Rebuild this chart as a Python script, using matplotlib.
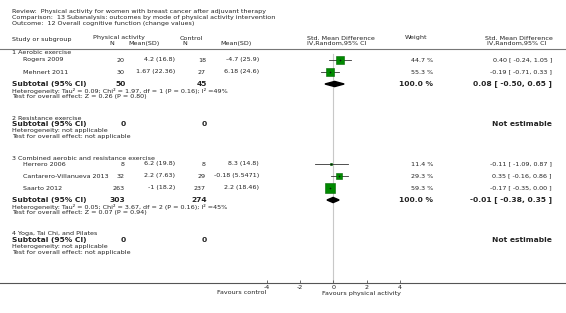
import matplotlib
matplotlib.use("Agg")
import matplotlib.pyplot as plt
from matplotlib.patches import Polygon

# ---------------------------------------------------------------------------
# Data
# ---------------------------------------------------------------------------

title_lines = [
    "Review:  Physical activity for women with breast cancer after adjuvant therapy",
    "Comparison:  13 Subanalysis: outcomes by mode of physical activity intervention",
    "Outcome:  12 Overall cognitive function (change values)",
]

groups = [
    "1 Aerobic exercise",
    "2 Resistance exercise",
    "3 Combined aerobic and resistance exercise",
    "4 Yoga, Tai Chi, and Pilates",
]

studies = ["Rogers 2009", "Mehnert 2011", "Herrero 2006",
           "Cantarero-Villanueva 2013", "Saarto 2012"]
pa_n = [20, 30, 8, 32, 263]
pa_mean = [4.2, 1.67, 6.2, 2.2, -1]
pa_sd = [16.8, 22.36, 19.8, 7.63, 18.2]
ctrl_n = [18, 27, 8, 29, 237]
ctrl_mean = [-4.7, 6.18, 8.3, -0.18, 2.2]
ctrl_sd = [25.9, 24.6, 14.8, 5.5471, 18.46]
smd = [0.40, -0.19, -0.11, 0.35, -0.17]
smd_lo = [-0.24, -0.71, -1.09, -0.16, -0.35]
smd_hi = [1.05, 0.33, 0.87, 0.86, 0.00]
weight = [44.7, 55.3, 11.4, 29.3, 59.3]

sub_pa_n = [50, 0, 303, 0]
sub_ctrl_n = [45, 0, 274, 0]
sub_smd = [0.08, None, -0.01, None]
sub_lo = [-0.50, None, -0.38, None]
sub_hi = [0.65, None, 0.35, None]
sub_het = [
    "Heterogeneity: Tau\u00b2 = 0.09; Chi\u00b2 = 1.97, df = 1 (P = 0.16); I\u00b2 =49%",
    "Heterogeneity: not applicable",
    "Heterogeneity: Tau\u00b2 = 0.05; Chi\u00b2 = 3.67, df = 2 (P = 0.16); I\u00b2 =45%",
    "Heterogeneity: not applicable",
]
sub_test = [
    "Test for overall effect: Z = 0.26 (P = 0.80)",
    "Test for overall effect: not applicable",
    "Test for overall effect: Z = 0.07 (P = 0.94)",
    "Test for overall effect: not applicable",
]

xticks = [-4, -2, 0, 2, 4]

# ---------------------------------------------------------------------------
# Layout (pixel rows / columns of a 566x313 canvas)
# ---------------------------------------------------------------------------

W, H = 566, 313
study_y = [60, 72, 164, 176, 188]
group_y = [53, 118, 158, 234]
sub_y = [84, 124, 200, 240]
het_y = [s + 6.8 for s in sub_y]
test_y = [s + 12.6 for s in sub_y]
axis_y = 282.7
zero_px, unit_px = 333.3, 16.67

FS = 4.55       # normal text
FS_SUB = 5.4    # bold subtotal text
FS_SMALL = 4.6  # heterogeneity lines
TXT = "#222222"

fig = plt.figure(figsize=(W / 100, H / 100), dpi=100)
ax = fig.add_axes([0, 0, 1, 1])
ax.set_xlim(0, W)
ax.set_ylim(H, 0)
ax.axis("off")


def txt(x, y, s, size=FS, ha="left", bold=False):
    ax.text(x, y, s, fontsize=size, ha=ha, va="center", color=TXT,
            fontweight="bold" if bold else "normal")


def fmt(m, s):
    return f"{m:g} ({s:g})"


# Titles
for i, line in enumerate(title_lines):
    txt(12, [12, 17.5, 23.5][i], line)

# Header
txt(12, 39, "Study or subgroup")
txt(93, 38, "Physical activity")
txt(112, 43.5, "N", ha="center")
txt(128, 43.5, "Mean(SD)")
txt(180, 38, "Control")
txt(185, 43.5, "N", ha="center")
txt(220, 43.5, "Mean(SD)")
txt(307, 38, "Std. Mean Difference")
txt(307, 43.5, "IV,Random,95% CI")
txt(405, 38, "Weight")
txt(485, 38, "Std. Mean Difference")
txt(487, 43.5, "IV,Random,95% CI")
ax.plot([0, W], [48.7, 48.7], color="#777777", lw=0.8)

# Study rows
for i, name in enumerate(studies):
    y = study_y[i]
    txt(23, y, name)
    txt(124.5, y, str(pa_n[i]), ha="right")
    txt(175, y, fmt(pa_mean[i], pa_sd[i]), ha="right")
    txt(206, y, str(ctrl_n[i]), ha="right")
    txt(259, y, fmt(ctrl_mean[i], ctrl_sd[i]), ha="right")
    txt(433, y, f"{weight[i]:.1f} %", ha="right")
    txt(552, y, f"{smd[i]:.2f} [ {smd_lo[i]:.2f}, {smd_hi[i]:.2f} ]", ha="right")

# Subgroup rows
for g, name in enumerate(groups):
    txt(12, group_y[g], name)
    txt(12, sub_y[g], "Subtotal (95% CI)", size=FS_SUB, bold=True)
    txt(125.5, sub_y[g], str(sub_pa_n[g]), size=FS_SUB, ha="right", bold=True)
    txt(207, sub_y[g], str(sub_ctrl_n[g]), size=FS_SUB, ha="right", bold=True)
    txt(12, het_y[g], sub_het[g], size=FS_SMALL)
    txt(12, test_y[g], sub_test[g], size=FS_SMALL)
    if sub_smd[g] is None:
        txt(552, sub_y[g], "Not estimable", size=FS_SUB, ha="right", bold=True)
    else:
        txt(433, sub_y[g], "100.0 %", size=FS_SUB, ha="right", bold=True)
        txt(552, sub_y[g],
            f"{sub_smd[g]:.2f} [ {sub_lo[g]:.2f}, {sub_hi[g]:.2f} ]",
            size=FS_SUB, ha="right", bold=True)

# Bottom axis line + labels
ax.plot([0, W], [axis_y, axis_y], color="#555555", lw=0.8)
txt(266, 293, "Favours control", ha="right")
txt(322, 293, "Favours physical activity")

# ---------------------------------------------------------------------------
# Forest panel in SMD units
# ---------------------------------------------------------------------------

x0 = zero_px - 4 * unit_px
fx = fig.add_axes([x0 / W, (H - axis_y) / H, 8 * unit_px / W, axis_y / H])
fx.set_xlim(-4, 4)
fx.set_ylim(axis_y, 0)
fx.patch.set_visible(False)
for sp in fx.spines.values():
    sp.set_visible(False)
fx.set_yticks([])
fx.set_xticks(xticks)
fx.set_xticklabels([str(t) for t in xticks])
fx.tick_params(axis="x", direction="in", length=2.5, width=0.6,
               colors="#555555", labelsize=4.6, pad=1.5, labelcolor=TXT)

fx.plot([0, 0], [54, axis_y], color="#c8c8c8", lw=0.8, zorder=1)

for i in range(len(studies)):
    y = study_y[i]
    fx.plot([smd_lo[i], smd_hi[i]], [y, y], color="#333333", lw=0.6, zorder=2)
    side = 1.5 + 0.13 * weight[i]
    fx.plot(smd[i], y, marker="s", ms=side / 1.389, mfc="#008a00",
            mec="#006400", mew=0.4, zorder=3)
    fx.plot(smd[i], y, marker="+", ms=1.5, color="#111111", mew=0.4, zorder=4)

for g in range(len(groups)):
    if sub_smd[g] is None:
        continue
    y = sub_y[g]
    dia = Polygon([(sub_lo[g], y), (sub_smd[g], y - 2.6),
                   (sub_hi[g], y), (sub_smd[g], y + 2.6)],
                  closed=True, color="black", zorder=3)
    fx.add_patch(dia)

fig.savefig("out.png", dpi=100)
